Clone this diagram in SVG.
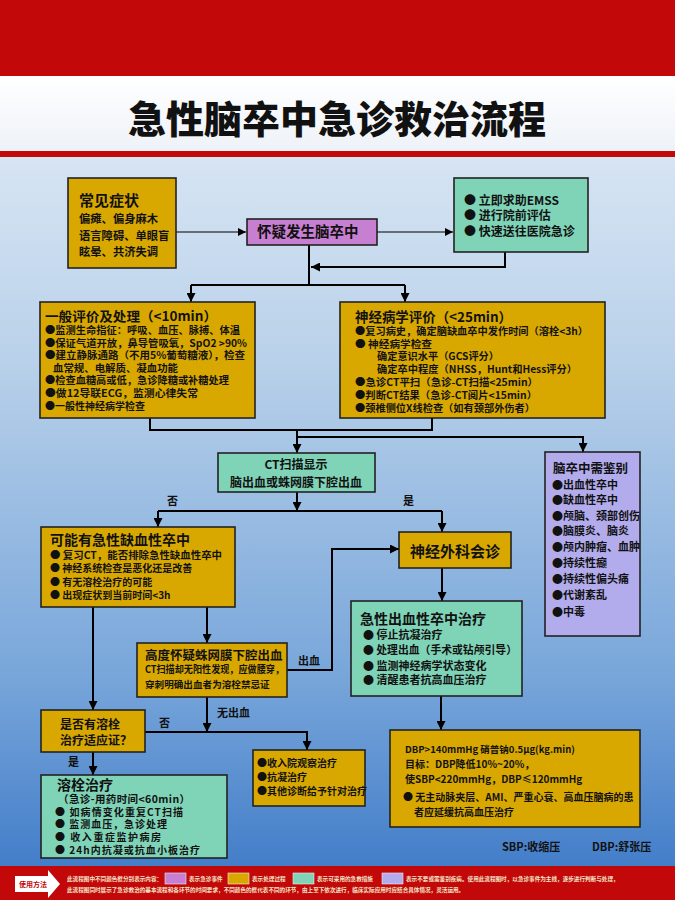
<svg xmlns="http://www.w3.org/2000/svg" width="675" height="900" viewBox="0 0 675 900">
<defs>
<linearGradient id="bg" x1="0" y1="0" x2="0" y2="1">
<stop offset="0" stop-color="#edf3fa"/>
<stop offset="0.4" stop-color="#b9d1ea"/>
<stop offset="0.75" stop-color="#78a6da"/>
<stop offset="1" stop-color="#3a77c6"/>
</linearGradient>
<linearGradient id="wb" x1="0" y1="0" x2="0" y2="1">
<stop offset="0" stop-color="#ffffff"/>
<stop offset="1" stop-color="#eef2f8"/>
</linearGradient>
<marker id="ah" viewBox="0 0 10 10" refX="10" refY="5" markerWidth="4.5" markerHeight="4.5" orient="auto" markerUnits="strokeWidth">
<path d="M0,0 L10,5 L0,10 z" fill="#000"/>
</marker>
<marker id="ahs" viewBox="0 0 10 10" refX="10" refY="5" markerWidth="7" markerHeight="7" orient="auto" markerUnits="strokeWidth">
<path d="M0,0 L10,5 L0,10 z" fill="#000"/>
</marker>
</defs>
<style>
text{font-family:"Noto Sans CJK SC","Liberation Sans",sans-serif;font-weight:700;fill:#111}
.box{stroke:#222;stroke-width:1.6}
.gold{fill:#d8a800}
.teal{fill:#7fd3b7}
.pur{fill:#c77fd1}
.lav{fill:#b2abec}
.c{stroke:#000;stroke-width:2;fill:none}
.ct{stroke:#000;stroke-width:1.2;fill:none}
.t10{font-size:10px}
.t11{font-size:11px}
.t12{font-size:12px}
.t13{font-size:13px}
.t14{font-size:14px}
.s{font-size:10px}
.leg{font-size:5.6px;fill:#f3e6c8}
</style>
<rect x="0" y="0" width="675" height="900" fill="url(#bg)"/>
<rect x="0" y="0" width="675" height="76" fill="#c20808"/>
<rect x="0" y="76" width="675" height="75" fill="url(#wb)"/>
<rect x="0" y="151" width="675" height="6" fill="#c20808"/>
<text x="337" y="133" text-anchor="middle" style="font-size:38px;font-weight:900">急性脑卒中急诊救治流程</text>

<g id="connectors">
<path class="ct" d="M176,232 H246" marker-end="url(#ahs)"/>
<path class="ct" d="M377,232 H453" marker-end="url(#ahs)"/>
<path class="c" d="M505,252 V267 H311" marker-end="url(#ah)"/>
<path class="c" d="M309,245 V285"/>
<path class="c" d="M191,285 H405"/>
<path class="c" d="M191,285 V302" marker-end="url(#ah)"/>
<path class="c" d="M405,285 V302" marker-end="url(#ah)"/>
<path class="c" d="M150,418 V430 H432 V418"/>
<path class="c" d="M297,430 V453" marker-end="url(#ah)"/>
<path class="c" d="M297,437 H583 V452" marker-end="url(#ah)"/>
<path class="c" d="M297,492 V511" marker-end="url(#ah)"/>
<path class="c" d="M158,511 H442"/>
<path class="c" d="M158,511 V527" marker-end="url(#ah)"/>
<path class="c" d="M442,511 V532" marker-end="url(#ah)"/>
<path class="c" d="M442,568 V601" marker-end="url(#ah)"/>
<path class="c" d="M441,696 V730" marker-end="url(#ah)"/>
<path class="c" d="M93,607 V710" marker-end="url(#ah)"/>
<path class="c" d="M207,607 V643" marker-end="url(#ah)"/>
<path class="c" d="M287,670 H332 V549 H399" marker-end="url(#ah)"/>
<path class="c" d="M207,697 V732" marker-end="url(#ah)"/>
<path class="c" d="M145,732 H307 V750" marker-end="url(#ah)"/>
<path class="c" d="M93,752 V775" marker-end="url(#ah)"/>
<text class="t11" x="167" y="505">否</text>
<text class="t11" x="403" y="505">是</text>
<text class="t11" x="298" y="665">出血</text>
<text class="t11" x="217" y="717">无出血</text>
<text class="t11" x="159" y="727">否</text>
<text class="t11" x="68" y="766">是</text>
</g>

<g id="symptoms">
<rect class="box gold" x="68" y="178" width="108" height="90"/>
<text x="79" y="206" style="font-size:15px">常见症状</text>
<text x="79" y="223" style="font-size:11.3px">偏瘫、偏身麻木</text>
<text x="79" y="240" style="font-size:11.3px">语言障碍、单眼盲</text>
<text x="79" y="256" style="font-size:11.3px">眩晕、共济失调</text>
</g>

<g id="suspect">
<rect class="box pur" x="247" y="219" width="130" height="26"/>
<text x="257" y="237" style="font-size:14.5px">怀疑发生脑卒中</text>
</g>

<g id="emss">
<rect class="box teal" x="454" y="178" width="134" height="74"/>
<text class="t12" x="464" y="205">● 立即求助EMSS</text>
<text class="t12" x="464" y="220">● 进行院前评估</text>
<text class="t12" x="464" y="236">● 快速送往医院急诊</text>
</g>

<g id="general">
<rect class="box gold" x="40" y="302" width="215" height="116"/>
<text x="45" y="321" style="font-size:13px" textLength="172" lengthAdjust="spacingAndGlyphs">一般评价及处理（&lt;10min）</text>
<text class="s" x="45" y="334" textLength="195" lengthAdjust="spacingAndGlyphs">●监测生命指征：呼吸、血压、脉搏、体温</text>
<text class="s" x="45" y="346.5" textLength="202" lengthAdjust="spacingAndGlyphs">●保证气道开放，鼻导管吸氧，SpO2 &gt;90%</text>
<text class="s" x="45" y="359" textLength="200" lengthAdjust="spacingAndGlyphs">●建立静脉通路（不用5%葡萄糖液），检查</text>
<text class="s" x="53" y="371.5" textLength="125" lengthAdjust="spacingAndGlyphs">血常规、电解质、凝血功能</text>
<text class="s" x="45" y="384" textLength="184" lengthAdjust="spacingAndGlyphs">●检查血糖高或低，急诊降糖或补糖处理</text>
<text class="s" x="45" y="396.5" textLength="153" lengthAdjust="spacingAndGlyphs">●做12导联ECG，监测心律失常</text>
<text class="s" x="45" y="410" textLength="100" lengthAdjust="spacingAndGlyphs">●一般性神经病学检查</text>
</g>

<g id="neuro">
<rect class="box gold" x="340" y="302" width="265" height="116"/>
<text x="355" y="322" style="font-size:13.5px" textLength="157" lengthAdjust="spacingAndGlyphs">神经病学评价（&lt;25min）</text>
<text class="s" x="355" y="335" textLength="233" lengthAdjust="spacingAndGlyphs">●复习病史，确定脑缺血卒中发作时间（溶栓&lt;3h）</text>
<text class="s" x="355" y="347.5" textLength="77" lengthAdjust="spacingAndGlyphs">● 神经病学检查</text>
<text class="s" x="377" y="360" textLength="122" lengthAdjust="spacingAndGlyphs">确定意识水平（GCS评分）</text>
<text class="s" x="377" y="372.5" textLength="200" lengthAdjust="spacingAndGlyphs">确定卒中程度（NHSS，Hunt和Hess评分）</text>
<text class="s" x="355" y="386" textLength="183" lengthAdjust="spacingAndGlyphs">●急诊CT平扫（急诊-CT扫描&lt;25min）</text>
<text class="s" x="355" y="398.5" textLength="182" lengthAdjust="spacingAndGlyphs">●判断CT结果（急诊-CT阅片&lt;15min）</text>
<text class="s" x="355" y="412" textLength="180" lengthAdjust="spacingAndGlyphs">●颈椎侧位X线检查（如有颈部外伤者）</text>
</g>

<g id="ct">
<rect class="box teal" x="218" y="453" width="157" height="39"/>
<text class="t12" x="296" y="469" text-anchor="middle">CT扫描显示</text>
<text class="t12" x="296" y="487" text-anchor="middle">脑出血或蛛网膜下腔出血</text>
</g>

<g id="differential">
<rect class="box lav" x="545" y="452" width="95" height="184"/>
<text x="553" y="473" style="font-size:12.5px">脑卒中需鉴别</text>
<text class="t11" x="552" y="489">●出血性卒中</text>
<text class="t11" x="552" y="504">●缺血性卒中</text>
<text class="t11" x="552" y="520">●颅脑、颈部创伤</text>
<text class="t11" x="552" y="535">●脑膜炎、脑炎</text>
<text class="t11" x="552" y="551">●颅内肿瘤、血肿</text>
<text class="t11" x="552" y="567">●持续性癫</text>
<text class="t11" x="552" y="583">●持续性偏头痛</text>
<text class="t11" x="552" y="599">●代谢紊乱</text>
<text class="t11" x="552" y="616">●中毒</text>
</g>

<g id="ischemic">
<rect class="box gold" x="41" y="527" width="194" height="80"/>
<text class="t14" x="50" y="545">可能有急性缺血性卒中</text>
<text class="s" x="50" y="559" textLength="172" lengthAdjust="spacingAndGlyphs">● 复习CT，能否排除急性缺血性卒中</text>
<text class="s" x="50" y="572">● 神经系统检查是恶化还是改善</text>
<text class="s" x="50" y="586">● 有无溶栓治疗的可能</text>
<text class="s" x="50" y="599">● 出现症状到当前时间&lt;3h</text>
</g>

<g id="neurosurgery">
<rect class="box gold" x="399" y="532" width="112" height="36"/>
<text x="455" y="557" text-anchor="middle" style="font-size:15px">神经外科会诊</text>
</g>

<g id="hemorrhagic">
<rect class="box teal" x="351" y="601" width="171" height="95"/>
<text class="t14" x="360" y="624">急性出血性卒中治疗</text>
<text class="t11" x="363" y="639">● 停止抗凝治疗</text>
<text class="t11" x="363" y="654" textLength="154" lengthAdjust="spacingAndGlyphs">● 处理出血（手术或钻颅引导）</text>
<text class="t11" x="363" y="670">● 监测神经病学状态变化</text>
<text class="t11" x="363" y="684">● 清醒患者抗高血压治疗</text>
</g>

<g id="sah">
<rect class="box gold" x="137" y="643" width="150" height="54"/>
<text x="145" y="660" style="font-size:12.5px">高度怀疑蛛网膜下腔出血</text>
<text x="145" y="673" style="font-size:9.8px" textLength="139" lengthAdjust="spacingAndGlyphs">CT扫描却无阳性发现，应做腰穿，</text>
<text x="145" y="688" style="font-size:9.6px">穿刺明确出血者为溶栓禁忌证</text>
</g>

<g id="indication">
<rect class="box gold" x="41" y="710" width="104" height="42"/>
<text class="t12" x="60" y="729">是否有溶栓</text>
<text class="t12" x="60" y="745">治疗适应证？</text>
</g>

<g id="admit">
<rect class="box gold" x="253" y="750" width="112" height="56"/>
<text class="t10" x="257" y="767">●收入院观察治疗</text>
<text class="t10" x="257" y="781">●抗凝治疗</text>
<text class="t10" x="257" y="795">●其他诊断给予针对治疗</text>
</g>

<g id="thrombolysis">
<rect class="box teal" x="41" y="775" width="186" height="83"/>
<text class="t14" x="57" y="790">溶栓治疗</text>
<text x="58" y="803" style="font-size:10.5px" textLength="132" lengthAdjust="spacing">（急诊-用药时间&lt;60min）</text>
<text class="s" x="55" y="816" textLength="128" lengthAdjust="spacing">● 如病情变化重复CT扫描</text>
<text class="s" x="55" y="828" textLength="112" lengthAdjust="spacing">● 监测血压，急诊处理</text>
<text class="s" x="55" y="841" textLength="106" lengthAdjust="spacing">● 收入重症监护病房</text>
<text class="s" x="55" y="854" textLength="145" lengthAdjust="spacing">● 24h内抗凝或抗血小板治疗</text>
</g>

<g id="bp">
<rect class="box gold" x="390" y="730" width="250" height="97"/>
<text x="405" y="753" style="font-size:9.5px">DBP&gt;140mmHg    硝普钠0.5μg(kg.min)</text>
<text x="405" y="768" style="font-size:10px">目标：DBP降低10%~20%，</text>
<text x="405" y="783" style="font-size:10px">使SBP&lt;220mmHg，DBP≤120mmHg</text>
<text x="403" y="801" style="font-size:10px">● 无主动脉夹层、AMI、严重心衰、高血压脑病的患</text>
<text x="414" y="816" style="font-size:10px">者应延缓抗高血压治疗</text>
</g>

<g id="abbr">
<text class="t11" x="502" y="851">SBP:收缩压</text>
<text class="t11" x="592" y="851">DBP:舒张压</text>
</g>

<g id="legend">
<rect x="0" y="866" width="675" height="34" fill="#c20808"/>
<path d="M15,876 H48 V870 L60,884 L48,898 V892 H15 z" fill="#ffffff"/>
<text x="19" y="887" style="font-size:7px;fill:#c20808">使用方法</text>
<rect x="165" y="873" width="21" height="11" fill="#c77fd1" stroke="#eee" stroke-width="0.6"/>
<rect x="228" y="873" width="21" height="11" fill="#d8a800" stroke="#eee" stroke-width="0.6"/>
<rect x="293" y="873" width="21" height="11" fill="#7fd3b7" stroke="#eee" stroke-width="0.6"/>
<rect x="382" y="873" width="21" height="11" fill="#b2abec" stroke="#eee" stroke-width="0.6"/>
<text class="leg" x="67" y="881">此流程图中不同颜色框分别表示内容：</text>
<text class="leg" x="189" y="881">表示急诊事件</text>
<text class="leg" x="252" y="881">表示处理过程</text>
<text class="leg" x="317" y="881">表示可采用的急救措施</text>
<text class="leg" x="406" y="881">表示不要或需鉴别疾病。使用此流程图时，以急诊事件为主线，逐步进行判断与处理，</text>
<text class="leg" x="67" y="892">此流程图同时展示了急诊救治的基本流程和各环节的时间要求，不同颜色的框代表不同的环节，由上至下依次进行，临床实际应用时应结合具体情况，灵活运用。</text>
</g>
</svg>
